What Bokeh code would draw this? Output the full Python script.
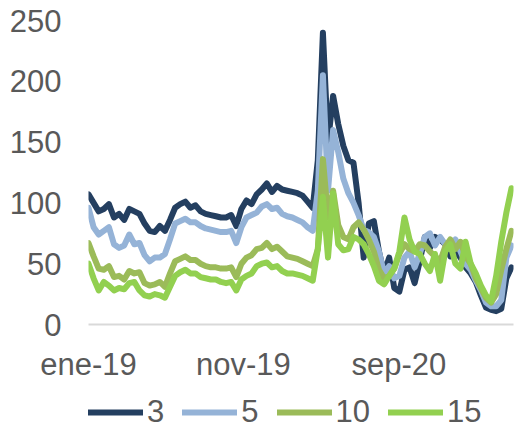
import pandas as pd
from bokeh.plotting import figure
from bokeh.layouts import column
from bokeh.models import (Range1d, FixedTicker, CustomJSTickFormatter, Legend,
                          LegendItem, ColumnDataSource)
from bokeh.embed import file_html
from bokeh.resources import INLINE

# ---- data (10-day steps from 2019-01-01) ----
start_date = "2019-01-01"
n_points = 84
step = "10D"
tick_dates = ["2019-01-01", "2019-11-01", "2020-09-01"]
y_ticks = [0, 50, 100, 150, 200, 250]
series_names = ["3", "5", "10", "15"]

s3 = [107, 100, 93, 95, 99, 88, 91, 86, 95, 93,
      91, 83, 77, 76, 81, 77, 86, 96, 99, 101,
      96, 98, 93, 91, 90, 89, 88, 88, 90, 81,
      95, 102, 99, 107, 111, 116, 109, 114, 111, 110,
      109, 108, 106, 101, 96, 135, 240, 150, 188, 165,
      147, 135, 133, 100, 55, 83, 85, 60, 42, 55,
      30, 27, 45, 47, 34, 52, 72, 63, 72, 70,
      66, 56, 60, 55, 47, 42, 35, 24, 14, 12,
      11, 13, 38, 47]
s5 = [96, 80, 74, 77, 80, 66, 63, 65, 74, 66,
      67, 57, 52, 55, 55, 58, 70, 83, 85, 87,
      84, 84, 81, 79, 78, 77, 76, 76, 77, 67,
      80, 88, 90, 92, 97, 99, 95, 96, 91, 89,
      88, 86, 84, 80, 77, 110, 205, 110, 160, 142,
      120, 108, 100, 90, 78, 76, 72, 60, 42, 48,
      38, 40, 55, 60, 47, 58, 72, 75, 65, 72,
      66, 62, 70, 60, 50, 45, 36, 28, 18, 15,
      15, 20, 55, 65]
s10 = [67, 56, 46, 45, 48, 39, 40, 37, 44, 42,
       43, 34, 32, 33, 35, 31, 42, 52, 54, 56,
       53, 53, 50, 48, 47, 47, 46, 46, 47, 39,
       50, 55, 57, 62, 63, 67, 62, 64, 60, 56,
       55, 54, 52, 50, 48, 62, 136, 88, 110, 82,
       72, 70, 80, 84, 78, 70, 60, 45, 38, 40,
       46, 58, 66, 62, 60, 66, 65, 60, 56, 52,
       64, 70, 62, 68, 56, 50, 38, 30, 22, 18,
       25, 45, 62, 77]
s15 = [50, 38, 28, 35, 32, 28, 30, 29, 34, 35,
       28, 24, 23, 25, 24, 22, 31, 40, 43, 45,
       42, 42, 39, 38, 37, 37, 35, 34, 35, 28,
       37, 40, 42, 48, 50, 51, 47, 48, 44, 42,
       42, 41, 40, 38, 36, 62, 105, 55, 108, 66,
       61, 62, 72, 70, 66, 58, 48, 36, 33, 40,
       46, 60, 88, 70, 60, 58, 50, 44, 58, 36,
       60, 66, 50, 46, 68, 50, 42, 32, 24, 19,
       40, 68, 92, 112]

colors = ["#243F60", "#95B3D7", "#9BBB59", "#92D050"]
cols = ["s3", "s5", "s10", "s15"]

dates = pd.date_range(start_date, periods=n_points, freq=step)
src = ColumnDataSource(dict(date=dates, s3=s3, s5=s5, s10=s10, s15=s15))

FONT = "Liberation Sans"
TXT = "#595959"
LW = 6

x0 = pd.Timestamp(start_date)
x1 = dates[-1] + pd.Timedelta(days=4)

p = figure(width=515, height=384, x_axis_type="datetime",
           output_backend="svg", toolbar_location=None,
           x_range=Range1d(x0, x1), y_range=Range1d(0, 250),
           min_border_left=88, min_border_right=2,
           min_border_top=20, min_border_bottom=56)
p.outline_line_color = None
p.xgrid.visible = False
p.ygrid.visible = False
p.background_fill_color = "white"

for col, c in zip(cols, colors):
    p.line("date", col, source=src, line_color=c, line_width=LW,
           line_cap="round", line_join="round")

# x axis
xa = p.xaxis[0]
xa.ticker = FixedTicker(ticks=[pd.Timestamp(d).value / 1e6 for d in tick_dates])
xa.formatter = CustomJSTickFormatter(code="""
const m = ["ene","feb","mar","abr","may","jun","jul","ago","sep","oct","nov","dic"];
const d = new Date(tick);
return m[d.getUTCMonth()] + "-" + String(d.getUTCFullYear()).slice(2);
""")
xa.axis_line_color = "#D9D9D9"
xa.axis_line_width = 2
xa.major_tick_line_color = None
xa.minor_tick_line_color = None
xa.major_tick_out = 0
xa.minor_tick_out = 0
xa.major_label_text_font = FONT
xa.major_label_text_font_size = "31px"
xa.major_label_text_color = TXT
xa.major_label_standoff = 22

ya = p.yaxis[0]
ya.ticker = FixedTicker(ticks=y_ticks)
ya.axis_line_color = None
ya.major_tick_line_color = None
ya.minor_tick_line_color = None
ya.major_tick_out = 0
ya.minor_tick_out = 0
ya.major_label_text_font = FONT
ya.major_label_text_font_size = "31px"
ya.major_label_text_color = TXT
ya.major_label_standoff = 27

# ---- legend strip below the chart (series drawn off-range, only the legend shows) ----
pl = figure(width=515, height=46, x_axis_type="datetime",
            output_backend="svg", toolbar_location=None,
            x_range=Range1d(x0, x1), y_range=Range1d(1000, 1001),
            x_axis_location=None, y_axis_location=None, min_border=0)
pl.outline_line_color = None
pl.xgrid.visible = False
pl.ygrid.visible = False
leg_renderers = [pl.line("date", col, source=src, line_color=c, line_width=LW,
                         line_cap="round") for col, c in zip(cols, colors)]
legend = Legend(items=[LegendItem(label=n, renderers=[r])
                       for n, r in zip(series_names, leg_renderers)],
                orientation="horizontal", location=(0, 0),
                glyph_width=55, glyph_height=20, label_width=0,
                label_standoff=4, spacing=18, padding=0, margin=0,
                border_line_color=None, background_fill_alpha=0,
                label_text_font=FONT, label_text_font_size="31px",
                label_text_color=TXT)
pl.add_layout(legend, "center")

layout = column(p, pl, spacing=0)
open("out.html", "w").write(file_html(layout, INLINE))
